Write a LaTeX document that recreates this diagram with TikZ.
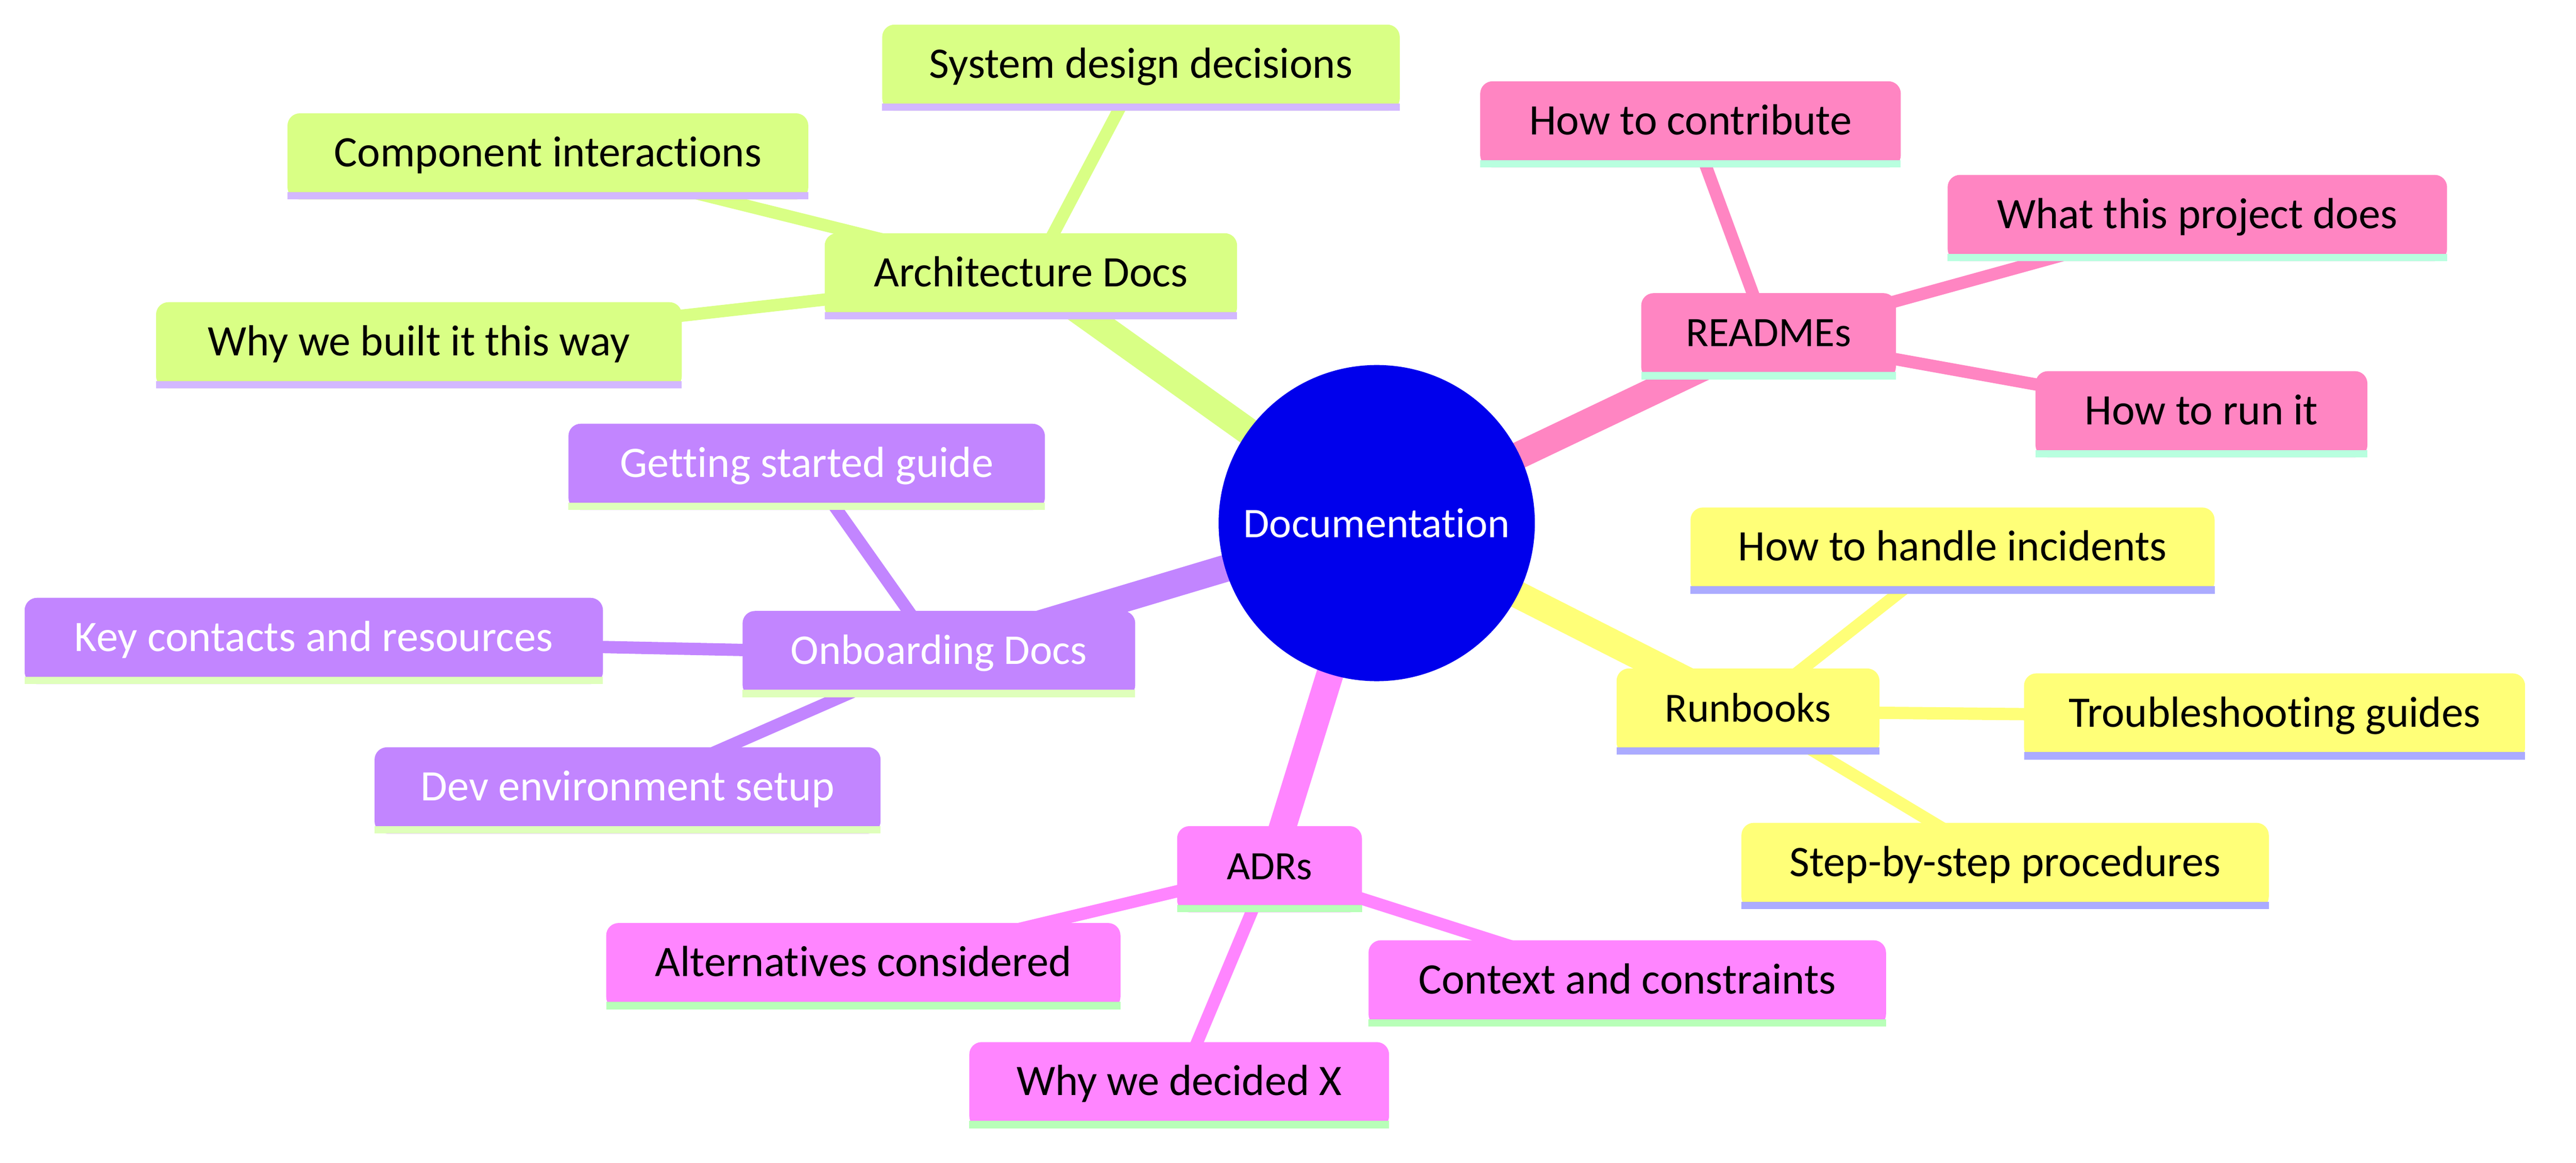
\documentclass[tikz,border=0pt]{standalone}
\usepackage{fontspec}
\setmainfont{Carlito}[Ligatures={NoCommon,NoRequired,NoContextual}]
\pgfdeclarelayer{bg}
\pgfdeclarelayer{top}
\pgfsetlayers{bg,main,top}
\definecolor{cRoot}{HTML}{0000EC}
\definecolor{cGreen}{HTML}{D9FF85}\definecolor{bGreen}{HTML}{D3B8FF}
\definecolor{cPink}{HTML}{FF85C2}\definecolor{bPink}{HTML}{B8FFDF}
\definecolor{cYellow}{HTML}{FFFF78}\definecolor{bYellow}{HTML}{ABABFF}
\definecolor{cMag}{HTML}{FF85FF}\definecolor{bMag}{HTML}{B8FFB8}
\definecolor{cPurp}{HTML}{C285FF}\definecolor{bPurp}{HTML}{DFFFBB}
\tikzset{
  x=1pt,y=-1pt,
  fs/.style={font=\fontsize{#1}{30}\selectfont},
  box/.style n args={3}{fill=#1,text=#3,rounded corners=7.5pt,inner xsep=0pt,inner ysep=0pt,
    outer sep=0pt,anchor=base,text height=32.5pt,text depth=20pt,fs=26.5,
    append after command={\pgfextra{\begin{pgfonlayer}{top}\fill[#2,sharp corners] (\tikzlastnode.south west) rectangle ([yshift=4.5pt]\tikzlastnode.south east);\end{pgfonlayer}}}},
  green/.style={box={cGreen}{bGreen}{black}},
  pink/.style={box={cPink}{bPink}{black}},
  yellow/.style={box={cYellow}{bYellow}{black}},
  magenta/.style={box={cMag}{bMag}{black}},
  purple/.style={box={cPurp}{bPurp}{white}},
  trunk/.style={line width=16.5pt,line cap=butt},
  twig/.style={line width=7.5pt,line cap=butt},
}
\begin{document}
\begin{tikzpicture}
\useasboundingbox (0,0) rectangle (1568,708);
\node[circle,fill=cRoot,text=white,minimum size=192.5pt,inner sep=0pt,fs=25.7] (root) at (838,318.5) {Documentation};
% green
\node[green,minimum width=251pt] (arch) at (627.5,174.5) {Architecture Docs};
\node[green,minimum width=315pt] (sys) at (694.5,47.5) {System design decisions};
\node[green,minimum width=317pt] (comp) at (333.5,101.5) {Component interactions};
\node[green,minimum width=320pt] (why) at (255,216.5) {Why we built it this way};
% pink
\node[pink,minimum width=155pt,fs=25.5] (read) at (1076.5,211) {READMEs};
\node[pink,minimum width=256pt] (contrib) at (1029,82) {How to contribute};
\node[pink,minimum width=304pt] (what) at (1337.5,139) {What this project does};
\node[pink,minimum width=202pt] (run) at (1340,258.5) {How to run it};
% yellow
\node[yellow,minimum width=160pt,fs=25.2] (rb) at (1064,439.5) {Runbooks};
\node[yellow,minimum width=319pt] (inc) at (1188.5,341.5) {How to handle incidents};
\node[yellow,minimum width=305pt] (trb) at (1384.5,442.5) {Troubleshooting guides};
\node[yellow,minimum width=321pt] (stp) at (1220.5,533.5) {Step-by-step procedures};
% magenta
\node[magenta,minimum width=112.5pt,fs=24.5] (adr) at (772.75,535.5) {ADRs};
\node[magenta,minimum width=315pt] (ctx) at (990.5,605) {Context and constraints};
\node[magenta,minimum width=255.5pt] (dec) at (717.75,667) {Why we decided X};
\node[magenta,minimum width=313pt] (alt) at (525.5,594.5) {Alternatives considered};
% purple
\node[purple,minimum width=239pt,fs=25.8] (onb) at (571.5,404.5) {Onboarding Docs};
\node[purple,minimum width=290pt] (get) at (491,290.5) {Getting started guide};
\node[purple,minimum width=352pt] (key) at (191,396.5) {Key contacts and resources};
\node[purple,minimum width=308pt] (dev) at (382,487.5) {Dev environment setup};
\begin{pgfonlayer}{bg}
\draw[trunk,cGreen] (root.center) -- (arch.center);
\draw[twig,cGreen] (arch.center) -- (sys.center);
\draw[twig,cGreen] (arch.center) -- (comp.center);
\draw[twig,cGreen] (arch.center) -- (why.center);
\draw[trunk,cPink] (root.center) -- (read.center);
\draw[twig,cPink] (read.center) -- (contrib.center);
\draw[twig,cPink] (read.center) -- (what.center);
\draw[twig,cPink] (read.center) -- (run.center);
\draw[trunk,cYellow] (root.center) -- (rb.center);
\draw[twig,cYellow] (rb.center) -- (inc.center);
\draw[twig,cYellow] (rb.center) -- (trb.center);
\draw[twig,cYellow] (rb.center) -- (stp.center);
\draw[trunk,cMag] (root.center) -- (adr.center);
\draw[twig,cMag] (adr.center) -- (ctx.center);
\draw[twig,cMag] (adr.center) -- (dec.center);
\draw[twig,cMag] (adr.center) -- (alt.center);
\draw[trunk,cPurp] (root.center) -- (onb.center);
\draw[twig,cPurp] (onb.center) -- (get.center);
\draw[twig,cPurp] (onb.center) -- (key.center);
\draw[twig,cPurp] (onb.center) -- (dev.center);
\end{pgfonlayer}
\end{tikzpicture}
\end{document}
